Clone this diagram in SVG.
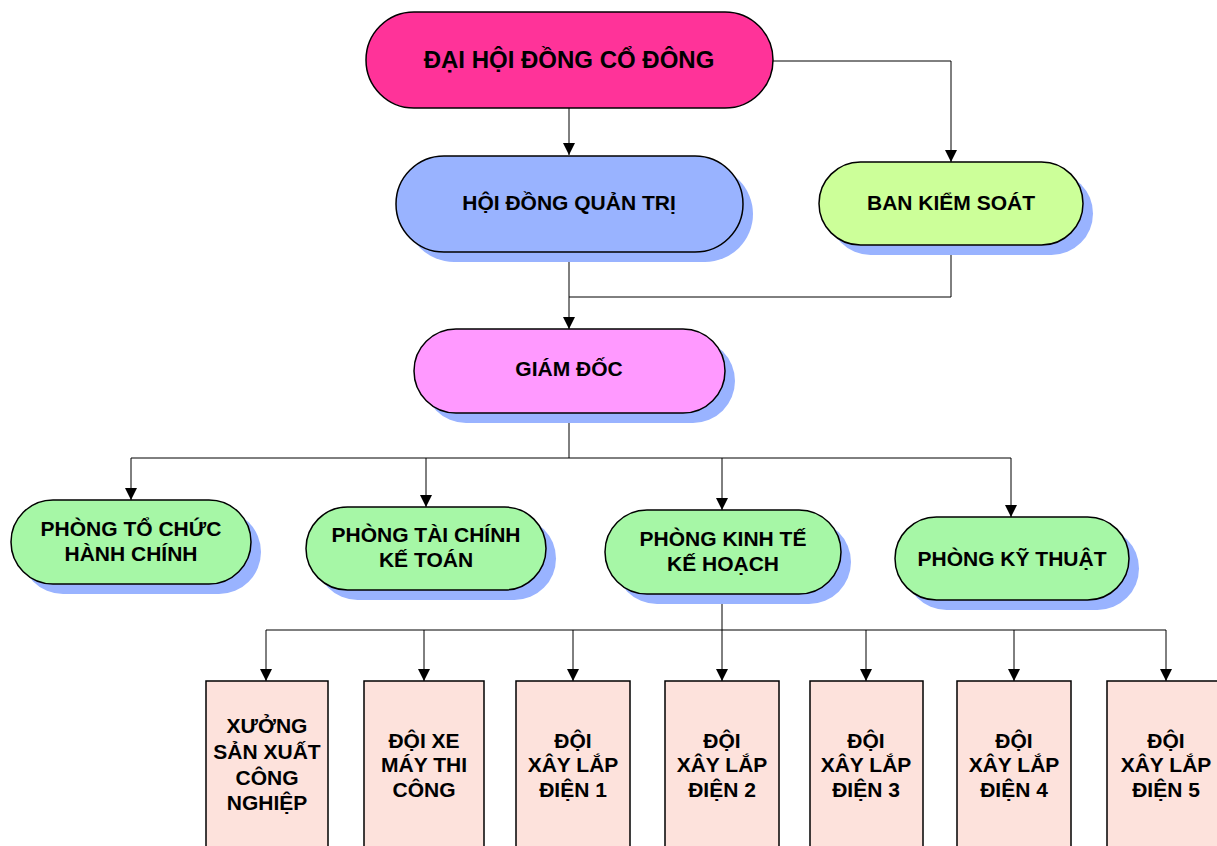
<svg xmlns="http://www.w3.org/2000/svg" width="1217" height="846" viewBox="0 0 1217 846">
<style>
.t{font-family:"Liberation Sans",Arial,sans-serif;font-weight:bold;font-size:21px;fill:#000;text-anchor:middle}
.big{font-size:24px}
.sh{fill:#99b3ff}
.n{stroke:#000;stroke-width:1.5}
.c{fill:none;stroke:#000;stroke-width:1}
.box{fill:#fde2dc;stroke:#000;stroke-width:1.5}
</style>
<defs>
<marker id="ah" viewBox="0 0 10 10" refX="10" refY="5" markerWidth="12" markerHeight="12" markerUnits="userSpaceOnUse" orient="auto">
<path d="M0,0 L10,5 L0,10 z" fill="#000"/>
</marker>
</defs>
<rect width="1217" height="846" fill="#fff"/>
<g id="connectors">
<path class="c" d="M569,108 V155" marker-end="url(#ah)"/>
<path class="c" d="M773,61 H951 V162" marker-end="url(#ah)"/>
<path class="c" d="M569,252 V329" marker-end="url(#ah)"/>
<path class="c" d="M951,245 V297 H569"/>
<path class="c" d="M569,413 V458 M131,458 H1011"/>
<path class="c" d="M131,458 V500" marker-end="url(#ah)"/>
<path class="c" d="M426,458 V507" marker-end="url(#ah)"/>
<path class="c" d="M722,458 V510" marker-end="url(#ah)"/>
<path class="c" d="M1011,458 V517" marker-end="url(#ah)"/>
<path class="c" d="M722,594 V630 M266,630 H1166"/>
<path class="c" d="M266,630 V681" marker-end="url(#ah)"/>
<path class="c" d="M424,630 V681" marker-end="url(#ah)"/>
<path class="c" d="M573,630 V681" marker-end="url(#ah)"/>
<path class="c" d="M722,630 V681" marker-end="url(#ah)"/>
<path class="c" d="M866,630 V681" marker-end="url(#ah)"/>
<path class="c" d="M1014,630 V681" marker-end="url(#ah)"/>
<path class="c" d="M1166,630 V681" marker-end="url(#ah)"/>
</g>
<g id="dhdcd">
<rect class="n" x="366" y="12" width="407" height="96" rx="48" fill="#ff3399"/>
<text class="t big" x="569" y="68">ĐẠI HỘI ĐỒNG CỔ ĐÔNG</text>
</g>
<g id="hdqt">
<rect class="sh" x="406" y="166" width="347" height="96" rx="48"/>
<rect class="n" x="396" y="156" width="347" height="96" rx="48" fill="#99b3ff"/>
<text class="t" x="569" y="210">HỘI ĐỒNG QUẢN TRỊ</text>
</g>
<g id="bks">
<rect class="sh" x="829" y="172" width="264" height="83" rx="41.5"/>
<rect class="n" x="819" y="162" width="264" height="83" rx="41.5" fill="#ccff99"/>
<text class="t" x="951" y="210">BAN KIỂM SOÁT</text>
</g>
<g id="gd">
<rect class="sh" x="424" y="339" width="311" height="84" rx="42"/>
<rect class="n" x="414" y="329" width="311" height="84" rx="42" fill="#ff99ff"/>
<text class="t" x="569" y="376">GIÁM ĐỐC</text>
</g>
<g id="tchc">
<rect class="sh" x="21" y="510" width="240" height="84" rx="42"/>
<rect class="n" x="11" y="500" width="240" height="84" rx="42" fill="#a6f7a6"/>
<text class="t" x="131" y="536">PHÒNG TỔ CHỨC</text>
<text class="t" x="131" y="561">HÀNH CHÍNH</text>
</g>
<g id="tckt">
<rect class="sh" x="316" y="517" width="240" height="83" rx="41.5"/>
<rect class="n" x="306" y="507" width="240" height="83" rx="41.5" fill="#a6f7a6"/>
<text class="t" x="426" y="542">PHÒNG TÀI CHÍNH</text>
<text class="t" x="426" y="567">KẾ TOÁN</text>
</g>
<g id="ktkh">
<rect class="sh" x="615" y="520" width="236" height="84" rx="42"/>
<rect class="n" x="605" y="510" width="236" height="84" rx="42" fill="#a6f7a6"/>
<text class="t" x="723" y="546">PHÒNG KINH TẾ</text>
<text class="t" x="723" y="571">KẾ HOẠCH</text>
</g>
<g id="kt">
<rect class="sh" x="905" y="527" width="234" height="83" rx="41.5"/>
<rect class="n" x="895" y="517" width="234" height="83" rx="41.5" fill="#a6f7a6"/>
<text class="t" x="1012" y="566">PHÒNG KỸ THUẬT</text>
</g>
<g id="xuong">
<rect class="box" x="206" y="681" width="122" height="180"/>
<text class="t" x="267" y="733">XƯỞNG</text>
<text class="t" x="267" y="759">SẢN XUẤT</text>
<text class="t" x="267" y="785">CÔNG</text>
<text class="t" x="267" y="810">NGHIỆP</text>
</g>
<g id="doixe">
<rect class="box" x="364" y="681" width="120" height="180"/>
<text class="t" x="424" y="748">ĐỘI XE</text>
<text class="t" x="424" y="772">MÁY THI</text>
<text class="t" x="424" y="797">CÔNG</text>
</g>
<g id="xl1">
<rect class="box" x="516" y="681" width="114" height="180"/>
<text class="t" x="573" y="748">ĐỘI</text>
<text class="t" x="573" y="772">XÂY LẮP</text>
<text class="t" x="573" y="797">ĐIỆN 1</text>
</g>
<g id="xl2">
<rect class="box" x="665" y="681" width="114" height="180"/>
<text class="t" x="722" y="748">ĐỘI</text>
<text class="t" x="722" y="772">XÂY LẮP</text>
<text class="t" x="722" y="797">ĐIỆN 2</text>
</g>
<g id="xl3">
<rect class="box" x="810" y="681" width="113" height="180"/>
<text class="t" x="866" y="748">ĐỘI</text>
<text class="t" x="866" y="772">XÂY LẮP</text>
<text class="t" x="866" y="797">ĐIỆN 3</text>
</g>
<g id="xl4">
<rect class="box" x="957" y="681" width="114" height="180"/>
<text class="t" x="1014" y="748">ĐỘI</text>
<text class="t" x="1014" y="772">XÂY LẮP</text>
<text class="t" x="1014" y="797">ĐIỆN 4</text>
</g>
<g id="xl5">
<rect class="box" x="1107" y="681" width="120" height="180"/>
<text class="t" x="1166" y="748">ĐỘI</text>
<text class="t" x="1166" y="772">XÂY LẮP</text>
<text class="t" x="1166" y="797">ĐIỆN 5</text>
</g>
</svg>
